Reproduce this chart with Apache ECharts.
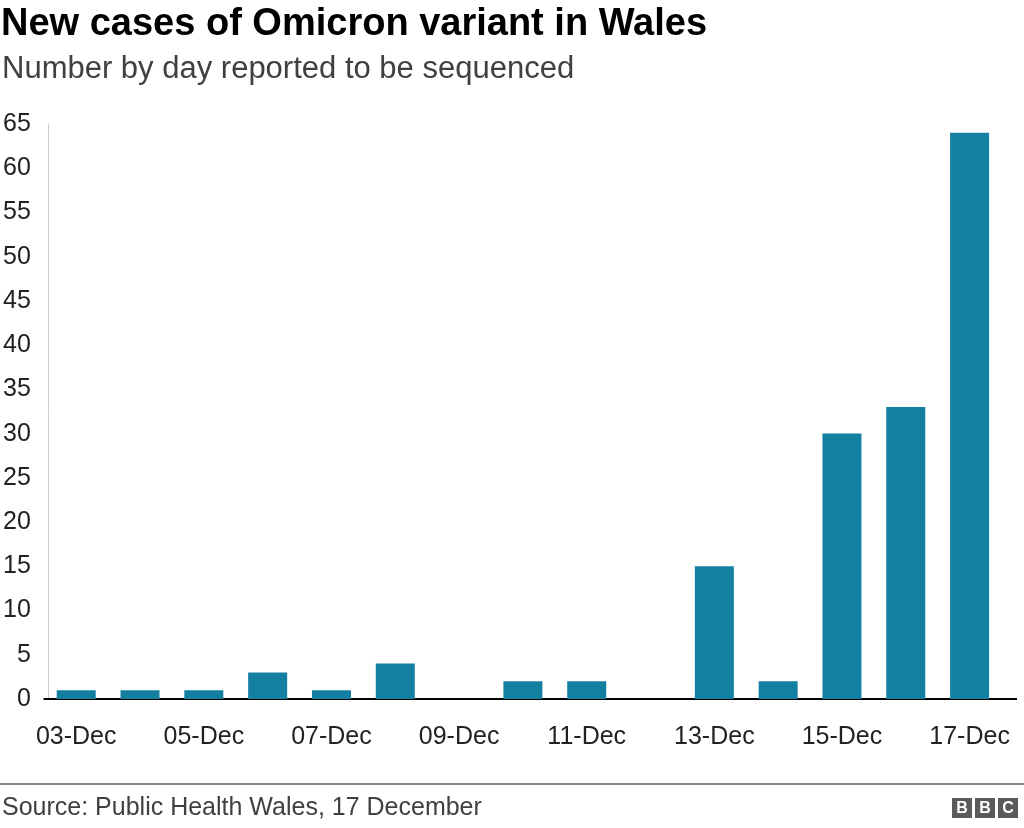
<!DOCTYPE html>
<html>
<head>
<meta charset="utf-8">
<script src="https://cdn.jsdelivr.net/npm/echarts@6/dist/echarts.min.js"></script>
<style>html,body{margin:0;padding:0;background:#fff}#c{width:1024px;height:828px}</style>
</head>
<body>
<div id="c"></div>
<script>
const categories = ['03-Dec','04-Dec','05-Dec','06-Dec','07-Dec','08-Dec','09-Dec','10-Dec','11-Dec','12-Dec','13-Dec','14-Dec','15-Dec','16-Dec','17-Dec'];
const cases = [1,1,1,3,1,4,0,2,2,0,15,2,30,33,64];
const titleText = 'New cases of Omicron variant in Wales';
const subtitleText = 'Number by day reported to be sequenced';
const sourceText = 'Source: Public Health Wales, 17 December';

const FONT = '"Liberation Sans", Arial, Helvetica, sans-serif';
const chart = echarts.init(document.getElementById('c'), null, {renderer: 'canvas'});
const gridLeft = 41.5, gridRight = 22.5, gridTop = 124, gridBottom = 129;

chart.setOption({
  animation: false,
  backgroundColor: '#fff',
  title: [
    {text: titleText, left: 1, top: 6, padding: 0, textStyle: {fontFamily: FONT, fontWeight: 'bold', fontSize: 38, color: '#000'}},
    {text: subtitleText, left: 2, top: 54, padding: 0, textStyle: {fontFamily: FONT, fontWeight: 'normal', fontSize: 31, color: '#404040'}},
    {text: sourceText, left: 2, top: 796, padding: 0, textStyle: {fontFamily: FONT, fontWeight: 'normal', fontSize: 25, color: '#404040'}}
  ],
  grid: {left: gridLeft, right: gridRight, top: gridTop, bottom: gridBottom, containLabel: false},
  xAxis: {
    type: 'category',
    data: categories,
    axisLine: {show: true, lineStyle: {color: '#000', width: 2}},
    axisTick: {show: false},
    axisLabel: {interval: 1, margin: 26, fontFamily: FONT, fontSize: 25, color: '#222'}
  },
  yAxis: {
    type: 'value',
    min: 0, max: 65, interval: 5,
    offset: -3.5,
    axisLine: {show: true, lineStyle: {color: '#cccccc', width: 1}},
    axisTick: {show: false},
    splitLine: {show: false},
    axisLabel: {margin: 17, fontFamily: FONT, fontSize: 25, color: '#222'}
  },
  series: [{
    type: 'bar',
    data: cases,
    barWidth: 39,
    itemStyle: {color: '#1380A1'},
    z: 1
  }],
  graphic: [
    {type: 'line', shape: {x1: 1024 - gridRight, y1: 828 - gridBottom, x2: 1017, y2: 828 - gridBottom}, style: {stroke: '#000', lineWidth: 2}},
    {type: 'line', shape: {x1: 0, y1: 784, x2: 1024, y2: 784}, style: {stroke: '#8a8a8a', lineWidth: 2}},
    {type: 'group', left: 952, top: 798, children: [
      {type: 'rect', shape: {x: 0, y: 0, width: 20, height: 20}, style: {fill: '#5a5a5a'}},
      {type: 'rect', shape: {x: 23, y: 0, width: 20, height: 20}, style: {fill: '#5a5a5a'}},
      {type: 'rect', shape: {x: 46, y: 0, width: 20, height: 20}, style: {fill: '#5a5a5a'}},
      {type: 'text', style: {text: 'B', x: 10, y: 10.5, align: 'center', verticalAlign: 'middle', fill: '#fff', font: 'bold 16px ' + FONT}},
      {type: 'text', style: {text: 'B', x: 33, y: 10.5, align: 'center', verticalAlign: 'middle', fill: '#fff', font: 'bold 16px ' + FONT}},
      {type: 'text', style: {text: 'C', x: 56, y: 10.5, align: 'center', verticalAlign: 'middle', fill: '#fff', font: 'bold 16px ' + FONT}}
    ]}
  ]
});
</script>
</body>
</html>
